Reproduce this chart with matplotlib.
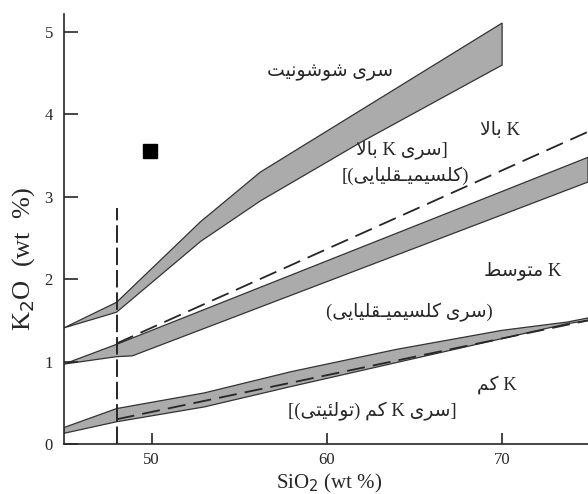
import matplotlib
matplotlib.use('Agg')
import matplotlib.pyplot as plt

# مرزهای سری‌ها، خوانده شده از روی شکل (SiO2 در برابر K2O)
shosh_top_x = [45, 48, 52.8, 56.2, 70]
shosh_top_y = [1.41, 1.72, 2.70, 3.30, 5.11]
shosh_bot_x = [45, 48, 52.8, 56.2, 62, 70]
shosh_bot_y = [1.41, 1.60, 2.46, 2.95, 3.67, 4.60]

med_top_x = [45, 48, 74.9]
med_top_y = [0.97, 1.21, 3.48]
med_bot_x = [45, 48, 48.9, 74.9]
med_bot_y = [0.97, 1.06, 1.07, 3.18]

low_top_x = [45, 48, 53, 58, 64, 70, 73.7, 74.9]
low_top_y = [0.20, 0.43, 0.62, 0.88, 1.15, 1.38, 1.48, 1.53]
low_bot_x = [45, 48, 53, 58, 64, 70, 73.7, 74.9]
low_bot_y = [0.13, 0.27, 0.45, 0.70, 0.99, 1.28, 1.46, 1.50]

highk_x = [48, 74.9]
highk_y = [1.22, 3.79]
lowk_x = [48, 74.9]
lowk_y = [0.30, 1.50]
basalt_x = [48, 48]
basalt_y = [0, 2.87]
point_x = [49.9]
point_y = [3.56]

x_ticks = [50, 60, 70]
y_ticks = [0, 1, 2, 3, 4, 5]

labels = [
    ("سری شوشونیت", 60.2, 4.51),
    ("K بالا", 69.9, 3.81),
    ("[سری K بالا", 64.3, 3.57),
    ("(کلسیمیـقلیایی)]", 64.5, 3.26),
    ("K متوسط", 71.2, 2.11),
    ("(سری کلسیمیـقلیایی)", 64.7, 1.60),
    ("K کم", 69.7, 0.72),
    ("[سری K کم (تولئیتی)]", 62.6, 0.39),
]

# فرم‌های نمایشی حروف: منفرد، پایانی، آغازی، میانی
FORMS = {
    'ا': ('\uFE8D', '\uFE8E', None, None),
    'ب': ('\uFE8F', '\uFE90', '\uFE91', '\uFE92'),
    'ت': ('\uFE95', '\uFE96', '\uFE97', '\uFE98'),
    'ر': ('\uFEAD', '\uFEAE', None, None),
    'س': ('\uFEB1', '\uFEB2', '\uFEB3', '\uFEB4'),
    'ش': ('\uFEB5', '\uFEB6', '\uFEB7', '\uFEB8'),
    'ط': ('\uFEC1', '\uFEC2', '\uFEC3', '\uFEC4'),
    'ق': ('\uFED5', '\uFED6', '\uFED7', '\uFED8'),
    'ل': ('\uFEDD', '\uFEDE', '\uFEDF', '\uFEE0'),
    'م': ('\uFEE1', '\uFEE2', '\uFEE3', '\uFEE4'),
    'ن': ('\uFEE5', '\uFEE6', '\uFEE7', '\uFEE8'),
    'و': ('\uFEED', '\uFEEE', None, None),
    'ئ': ('\uFE89', '\uFE8A', '\uFE8B', '\uFE8C'),
    'ی': ('\uFBFC', '\uFBFD', '\uFBFE', '\uFBFF'),
    'ک': ('\uFB8E', '\uFB8F', '\uFB90', '\uFB91'),
    'ـ': ('\u0640', '\u0640', '\u0640', '\u0640'),
}
MIRROR = {'(': ')', ')': '(', '[': ']', ']': '['}


def dual(c):
    return c in FORMS and FORMS[c][2] is not None


def farsi(s):
    # شکل‌دهی حروف و چیدن راست به چپ (matplotlib خودش این کار را نمی‌کند)
    glyphs = []
    i = 0
    while i < len(s):
        c = s[i]
        prev = s[i - 1] if i > 0 else ''
        nxt = s[i + 1] if i + 1 < len(s) else ''
        if c in FORMS:
            jp = dual(prev)
            if c == 'ل' and nxt == 'ا':
                glyphs.append(('\uFEFC' if jp else '\uFEFB', False))
                i += 2
                continue
            jn = dual(c) and nxt in FORMS
            f = FORMS[c]
            if jp and jn:
                g = f[3]
            elif jp:
                g = f[1]
            elif jn:
                g = f[2]
            else:
                g = f[0]
            glyphs.append((g, False))
        else:
            glyphs.append((c, c.isascii() and c.isalnum()))
        i += 1
    glyphs = glyphs[::-1]
    out = []
    run = []
    for g, ltr in glyphs:
        if ltr:
            run.append(g)
            continue
        if run:
            out.extend(run[::-1])
            run = []
        out.append(MIRROR.get(g, g))
    out.extend(run[::-1])
    return ''.join(out)


fam = ['Liberation Serif', 'DejaVu Sans']
ink = '#262626'

fig = plt.figure(figsize=(5.88, 4.94), dpi=100)
ax = fig.add_axes([0.1088, 0.1012, 0.8912, 0.8705])

band_kw = dict(facecolor='#ababab', edgecolor='#333333', linewidth=0.9)
ax.fill(shosh_top_x + shosh_bot_x[::-1], shosh_top_y + shosh_bot_y[::-1], **band_kw)
ax.fill(med_top_x + med_bot_x[::-1], med_top_y + med_bot_y[::-1], **band_kw)
ax.fill(low_top_x + low_bot_x[::-1], low_top_y + low_bot_y[::-1], **band_kw)

ax.plot(highk_x, highk_y, color=ink, lw=1.3, dashes=(10, 4.5))
ax.plot(lowk_x, lowk_y, color=ink, lw=1.3, dashes=(10, 4.5))
ax.plot(basalt_x, basalt_y, color=ink, lw=1.4, dashes=(9, 2.5))
ax.plot(point_x, point_y, 's', color='black', markersize=10)

for txt, x, y in labels:
    ax.text(x, y, farsi(txt), ha='center', va='center', fontsize=13.5,
            family=fam, color=ink)

ax.set_xlim(45, 74.9)
ax.set_ylim(0, 5.22)
ax.set_xticks(x_ticks)
ax.set_yticks(y_ticks)
ax.spines['top'].set_visible(False)
ax.spines['right'].set_visible(False)
for sp in ['left', 'bottom']:
    ax.spines[sp].set_linewidth(1.2)
    ax.spines[sp].set_color(ink)
ax.tick_params(axis='both', direction='in', width=1.2, colors=ink, labelsize=12)
ax.tick_params(axis='y', length=10, pad=8)
ax.tick_params(axis='x', length=8, pad=6)
for lb in ax.get_xticklabels() + ax.get_yticklabels():
    lb.set_family('Liberation Serif')

ax.set_xlabel('SiO$_2$ (wt %)', family='Liberation Serif', fontsize=15, color=ink)
ax.set_ylabel('K$_2$O  (wt  %)', family='Liberation Serif', fontsize=19, color=ink)
ax.xaxis.set_label_coords(0.506, -0.064)
ax.yaxis.set_label_coords(-0.052, 0.43)

fig.savefig('out.png', dpi=100)
